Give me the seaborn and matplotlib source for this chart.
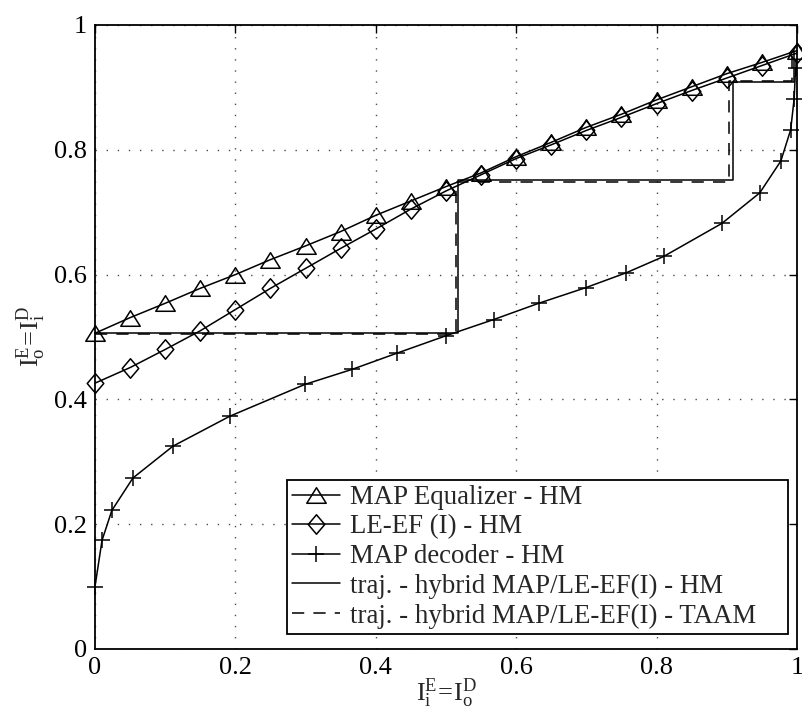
import matplotlib
matplotlib.use("Agg")
import matplotlib.pyplot as plt
import pandas as pd
import seaborn as sns
from matplotlib.path import Path

# ---- data -------------------------------------------------------------
eq_x = [0.00, 0.05, 0.10, 0.15, 0.20, 0.25, 0.30, 0.35, 0.40, 0.45, 0.50,
        0.55, 0.60, 0.65, 0.70, 0.75, 0.80, 0.85, 0.90, 0.95, 1.00]
eq_y = [0.506, 0.531, 0.554, 0.578, 0.600, 0.624, 0.646, 0.669, 0.695, 0.718, 0.741,
        0.763, 0.789, 0.812, 0.836, 0.857, 0.880, 0.901, 0.922, 0.940, 0.959]

le_x = eq_x
le_y = [0.426, 0.451, 0.480, 0.510, 0.544, 0.578, 0.610, 0.642, 0.673, 0.705, 0.734,
        0.760, 0.786, 0.808, 0.831, 0.852, 0.874, 0.895, 0.915, 0.935, 0.955]

dec_x = [0.000, 0.010, 0.024, 0.054, 0.111, 0.192, 0.299, 0.366, 0.430, 0.500, 0.568,
         0.632, 0.699, 0.757, 0.810, 0.893, 0.947, 0.977, 0.991, 0.996, 0.998]
dec_y = [0.100, 0.174, 0.222, 0.274, 0.325, 0.373, 0.424, 0.448, 0.474, 0.502, 0.528,
         0.554, 0.579, 0.603, 0.629, 0.682, 0.731, 0.782, 0.832, 0.882, 0.931]

traj_hm_x = [0.000, 0.517, 0.517, 0.909, 0.909, 0.996, 0.996]
traj_hm_y = [0.506, 0.506, 0.752, 0.752, 0.908, 0.908, 0.958]

traj_taam_x = [0.000, 0.514, 0.514, 0.903, 0.903, 0.993, 0.993]
traj_taam_y = [0.504, 0.504, 0.749, 0.749, 0.910, 0.910, 0.955]

tick_vals = [0, 0.2, 0.4, 0.6, 0.8, 1]
tick_text = ["0", "0.2", "0.4", "0.6", "0.8", "1"]

labels = ["MAP Equalizer - HM", "LE-EF (I) - HM", "MAP decoder - HM",
          "traj. - hybrid MAP/LE-EF(I) - HM", "traj. - hybrid MAP/LE-EF(I) - TAAM"]

# ---- style ------------------------------------------------------------
sns.set_theme(style="white")
plt.rcParams["font.family"] = ["Liberation Serif", "DejaVu Serif"]
plt.rcParams["mathtext.fontset"] = "custom"
plt.rcParams["mathtext.rm"] = "Liberation Serif"
plt.rcParams["mathtext.it"] = "Liberation Serif:italic"

tri_marker = Path([(-1, -0.8), (1, -0.8), (0, 0.8), (-1, -0.8)],
                  [Path.MOVETO, Path.LINETO, Path.LINETO, Path.CLOSEPOLY])
dia_marker = Path([(0, 1), (0.85, 0), (0, -1), (-0.85, 0), (0, 1)],
                  [Path.MOVETO, Path.LINETO, Path.LINETO, Path.LINETO, Path.CLOSEPOLY])

fig = plt.figure(figsize=(8.03, 7.12), dpi=100)
ax = fig.add_axes([0.1183, 0.0885, 0.8742, 0.8764])

lw = 1.1
common = dict(ax=ax, color="black", lw=lw, sort=False, estimator=None,
              clip_on=False, zorder=3)

sns.lineplot(x=eq_x, y=eq_y, marker=tri_marker, ms=14, mfc="none",
             mec="black", mew=lw, label=labels[0], **common)
sns.lineplot(x=le_x, y=le_y, marker=dia_marker, ms=14, mfc="none",
             mec="black", mew=lw, label=labels[1], **common)
sns.lineplot(x=dec_x, y=dec_y, marker="+", ms=12, mec="black",
             mew=lw, label=labels[2], **common)
sns.lineplot(x=traj_hm_x, y=traj_hm_y, label=labels[3], **common)
sns.lineplot(x=traj_taam_x, y=traj_taam_y, dashes=False, ls=(0, (8, 6)),
             label=labels[4], **common)

ax.set_xlim(0, 1)
ax.set_ylim(0, 1)
ax.set_xticks(tick_vals, tick_text)
ax.set_yticks(tick_vals, tick_text)
ax.tick_params(direction="in", length=6, width=1, colors="black",
               top=True, right=True, labelsize=19, pad=6)

ax.grid(True, linestyle=(0, (1, 7)), linewidth=1.0, color="0.3")
ax.set_axisbelow(True)
for sp in ax.spines.values():
    sp.set_color("black")
    sp.set_linewidth(1.3)

ax.set_xlabel(r"$\mathregular{I_i^E\!=\!I_o^D}$", fontsize=19, va="top")
ax.xaxis.set_label_coords(0.5, -0.045)
ax.set_ylabel(r"$\mathregular{I_o^E\!=\!I_i^D}$", fontsize=19, va="center")
ax.yaxis.set_label_coords(-0.091, 0.5)

leg = ax.legend(loc="lower left", bbox_to_anchor=(0.2735, 0.024, 0.7135, 0.24),
                mode="expand", fontsize=19.4,
                frameon=True, fancybox=False, edgecolor="black", framealpha=1,
                labelspacing=0.17, handlelength=1.75, handletextpad=0.4,
                borderpad=0.2, borderaxespad=0)
leg.get_frame().set_linewidth(1.3)

fig.savefig("out.png", dpi=100)
